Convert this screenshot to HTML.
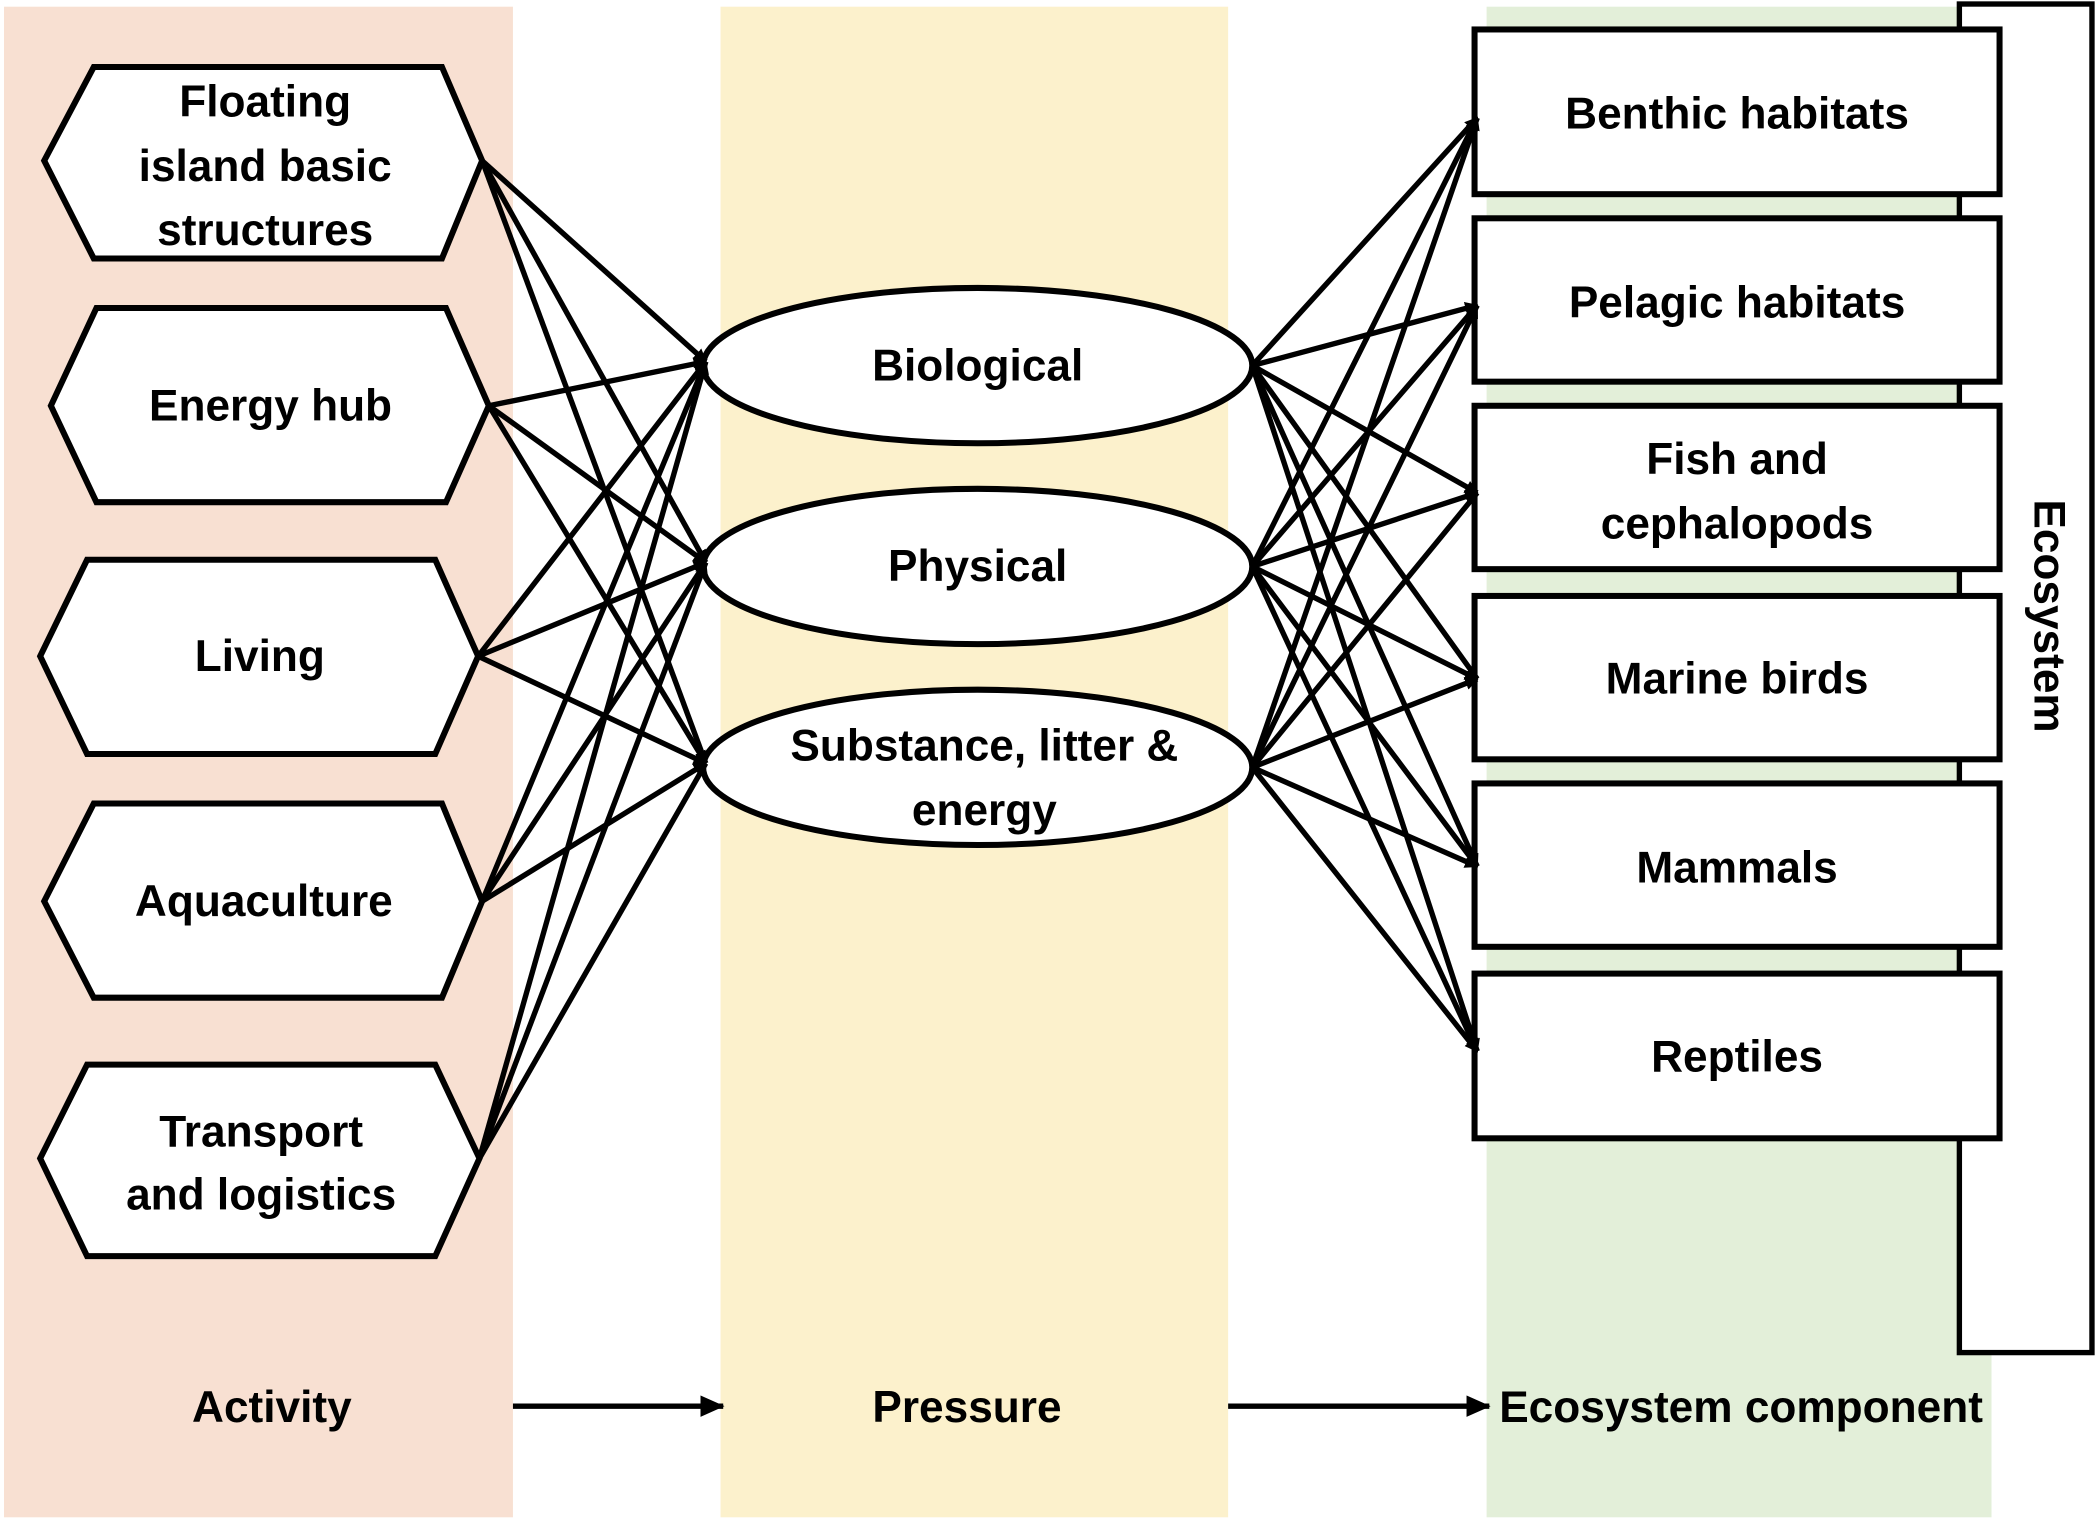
<!DOCTYPE html>
<html><head><meta charset="utf-8"><style>html,body{margin:0;padding:0;background:#fff}svg{display:block}</style></head><body>
<svg width="2100" height="1524" viewBox="0 0 1568 1138" preserveAspectRatio="none" xmlns="http://www.w3.org/2000/svg" font-family="Liberation Sans, sans-serif" font-weight="bold" font-size="33" text-anchor="middle">
<defs><marker id="a" markerWidth="10" markerHeight="10" refX="9" refY="5" orient="auto" markerUnits="userSpaceOnUse"><path d="M0,0 L10,5 L0,10 z" fill="#000"/></marker>
<marker id="b" markerWidth="18" markerHeight="16" refX="17" refY="8" orient="auto" markerUnits="userSpaceOnUse"><path d="M0,0 L18,8 L0,16 z" fill="#000"/></marker></defs>
<rect x="3" y="5" width="380" height="1128" fill="#f8e0d2"/>
<rect x="538" y="5" width="379" height="1128" fill="#fcf1cc"/>
<rect x="1110" y="5" width="377" height="1128" fill="#e3efd9"/>
<rect x="1463" y="3" width="99" height="1007" fill="#fff" stroke="#000" stroke-width="4"/>
<text transform="translate(1530,460) rotate(90)" dy="11">Ecosystem</text>
<g fill="#fff" stroke="#000" stroke-width="4.5">
<polygon points="33,120 70,50 330,50 360,120 330,193 70,193"/>
<polygon points="38,303 72,230 333,230 365,303 333,375 72,375"/>
<polygon points="30,490 65,418 325,418 357,490 325,563 65,563"/>
<polygon points="33,673 70,600 330,600 360,673 330,745 70,745"/>
<polygon points="30,865 65,795 325,795 358,865 325,938 65,938"/>
<ellipse cx="730" cy="273" rx="205" ry="58"/>
<ellipse cx="730" cy="423" rx="205" ry="58"/>
<ellipse cx="730" cy="573" rx="205" ry="58"/>
<rect x="1101" y="22" width="392" height="123"/>
<rect x="1101" y="163" width="392" height="122"/>
<rect x="1101" y="303" width="392" height="122"/>
<rect x="1101" y="445" width="392" height="122"/>
<rect x="1101" y="585" width="392" height="122"/>
<rect x="1101" y="727" width="392" height="123"/>
</g>
<g stroke="#000" stroke-width="4" marker-end="url(#a)">
<line x1="360" y1="120" x2="527" y2="270"/><line x1="360" y1="120" x2="527" y2="420"/><line x1="360" y1="120" x2="527" y2="570"/>
<line x1="365" y1="303" x2="527" y2="270"/><line x1="365" y1="303" x2="527" y2="420"/><line x1="365" y1="303" x2="527" y2="570"/>
<line x1="357" y1="490" x2="527" y2="270"/><line x1="357" y1="490" x2="527" y2="420"/><line x1="357" y1="490" x2="527" y2="570"/>
<line x1="360" y1="673" x2="527" y2="270"/><line x1="360" y1="673" x2="527" y2="420"/><line x1="360" y1="673" x2="527" y2="570"/>
<line x1="358" y1="865" x2="527" y2="270"/><line x1="358" y1="865" x2="527" y2="420"/><line x1="358" y1="865" x2="527" y2="570"/>
<g><line x1="935" y1="273" x2="1103" y2="88"/><line x1="935" y1="273" x2="1103" y2="228"/><line x1="935" y1="273" x2="1103" y2="368"/><line x1="935" y1="273" x2="1103" y2="507"/><line x1="935" y1="273" x2="1103" y2="647"/><line x1="935" y1="273" x2="1103" y2="785"/></g>
<g><line x1="935" y1="423" x2="1103" y2="88"/><line x1="935" y1="423" x2="1103" y2="228"/><line x1="935" y1="423" x2="1103" y2="368"/><line x1="935" y1="423" x2="1103" y2="507"/><line x1="935" y1="423" x2="1103" y2="647"/><line x1="935" y1="423" x2="1103" y2="785"/></g>
<g><line x1="935" y1="573" x2="1103" y2="88"/><line x1="935" y1="573" x2="1103" y2="228"/><line x1="935" y1="573" x2="1103" y2="368"/><line x1="935" y1="573" x2="1103" y2="507"/><line x1="935" y1="573" x2="1103" y2="647"/><line x1="935" y1="573" x2="1103" y2="785"/></g>
</g>
<g stroke="#000" stroke-width="4" marker-end="url(#b)">
<line x1="383" y1="1050" x2="540" y2="1050"/><line x1="917" y1="1050" x2="1112" y2="1050"/>
</g>
<g fill="#000">
<text x="198" y="87">Floating</text><text x="198" y="135">island basic</text><text x="198" y="183">structures</text>
<text x="202" y="314">Energy hub</text>
<text x="194" y="501">Living</text>
<text x="197" y="684">Aquaculture</text>
<text x="195" y="856">Transport</text><text x="195" y="903">and logistics</text>
<text x="730" y="284">Biological</text>
<text x="730" y="434">Physical</text>
<text x="735" y="568">Substance, litter &amp;</text><text x="735" y="616">energy</text>
<text x="1297" y="96">Benthic habitats</text>
<text x="1297" y="237">Pelagic habitats</text>
<text x="1297" y="354">Fish and</text><text x="1297" y="402">cephalopods</text>
<text x="1297" y="518">Marine birds</text>
<text x="1297" y="659">Mammals</text>
<text x="1297" y="800">Reptiles</text>
<text x="203" y="1062">Activity</text>
<text x="722" y="1062">Pressure</text>
<text x="1300" y="1062">Ecosystem component</text>
</g>
</svg>
</body></html>
